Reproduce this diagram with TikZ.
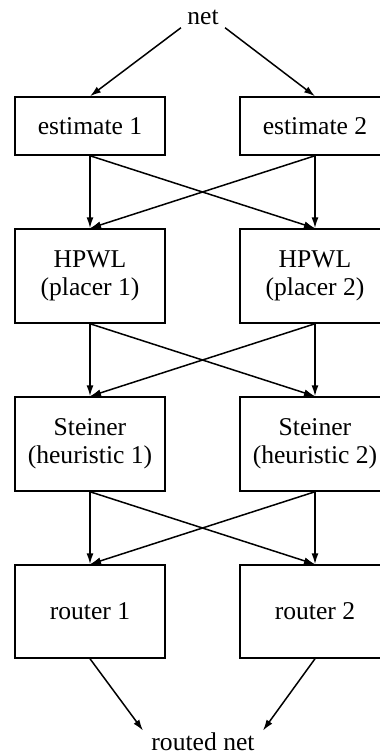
\documentclass[tikz,border=0pt]{standalone}
\usepackage{fontspec}
\setmainfont{Liberation Serif}
\usetikzlibrary{arrows.meta}
\begin{document}
\begin{tikzpicture}[x=0.5pt,y=-0.5pt,
  box/.style={draw,line width=0.75pt,minimum width=75pt,inner sep=0pt,align=center,font=\fontsize{12.8}{14}\selectfont},
  lbl/.style={inner xsep=3pt,inner ysep=1.5pt,font=\fontsize{12.8}{14}\selectfont},
  arr/.style={line width=0.75pt,-{Latex[length=5.5pt,width=3.5pt]}}]
\useasboundingbox (0,0) rectangle (380,755);
\node[lbl] (net) at (203,17) {net};
\node[box,minimum height=29pt] (e1) at (90,126) {estimate 1};
\node[box,minimum height=29pt] (e2) at (315,126) {estimate 2};
\node[box,minimum height=47pt] (h1) at (90,276) {HPWL\\(placer 1)};
\node[box,minimum height=47pt] (h2) at (315,276) {HPWL\\(placer 2)};
\node[box,minimum height=47pt] (s1) at (90,444) {Steiner\\(heuristic 1)};
\node[box,minimum height=47pt] (s2) at (315,444) {Steiner\\(heuristic 2)};
\node[box,minimum height=46.5pt] (r1) at (90,611.5) {router 1};
\node[box,minimum height=46.5pt] (r2) at (315,611.5) {router 2};
\node[lbl,inner xsep=4pt,inner ysep=1pt] (rn) at (203,742) {routed net};
\draw[arr] (net.south west) -- (e1.north);
\draw[arr] (net.south east) -- (e2.north);
\draw[arr] (e1.south) -- (h1.north);
\draw[arr] (e1.south) -- (h2.north);
\draw[arr] (e2.south) -- (h2.north);
\draw[arr] (e2.south) -- (h1.north);
\draw[arr] (h1.south) -- (s1.north);
\draw[arr] (h1.south) -- (s2.north);
\draw[arr] (h2.south) -- (s2.north);
\draw[arr] (h2.south) -- (s1.north);
\draw[arr] (s1.south) -- (r1.north);
\draw[arr] (s1.south) -- (r2.north);
\draw[arr] (s2.south) -- (r2.north);
\draw[arr] (s2.south) -- (r1.north);
\draw[arr] (r1.south) -- (rn.north west);
\draw[arr] (r2.south) -- (rn.north east);
\end{tikzpicture}
\end{document}
